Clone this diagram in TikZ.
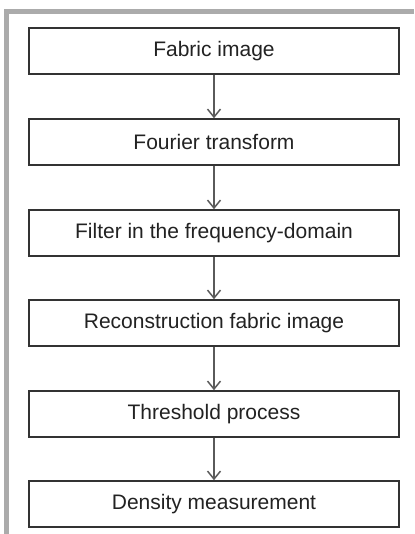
\documentclass[tikz,border=0pt]{standalone}
\usepackage{fontspec}
\setmainfont{Liberation Sans}
\usetikzlibrary{arrows.meta}
\definecolor{barcol}{HTML}{ABABAB}
\definecolor{boxcol}{HTML}{333333}
\definecolor{txtcol}{HTML}{222222}
\definecolor{arrcol}{HTML}{5A5A5A}
\tikzset{
  stepbox/.style={draw=boxcol, line width=1.5pt, fill=white, minimum width=370pt, minimum height=46pt, inner sep=0pt, text=txtcol, font=\fontsize{21}{24}\selectfont},
  flow/.style={draw=arrcol, line width=1.8pt, -{Straight Barb[length=8pt,width=13pt,line width=1.5pt]}},
}
\begin{document}
\begin{tikzpicture}[x=1pt,y=-1pt]
\useasboundingbox (0,0) rectangle (414,534);
\fill[barcol] (4,9) rectangle (414,14);
\fill[barcol] (4,9) rectangle (9,534);
\node[stepbox] (a) at (214,51) {Fabric image};
\node[stepbox] (b) at (214,142) {Fourier transform};
\node[stepbox] (c) at (214,233) {Filter in the frequency-domain};
\node[stepbox] (d) at (214,323) {Reconstruction fabric image};
\node[stepbox] (e) at (214,414) {Threshold process};
\node[stepbox] (f) at (214,504) {Density measurement};
\draw[flow] (a) -- (b);
\draw[flow] (b) -- (c);
\draw[flow] (c) -- (d);
\draw[flow] (d) -- (e);
\draw[flow] (e) -- (f);
\end{tikzpicture}
\end{document}
